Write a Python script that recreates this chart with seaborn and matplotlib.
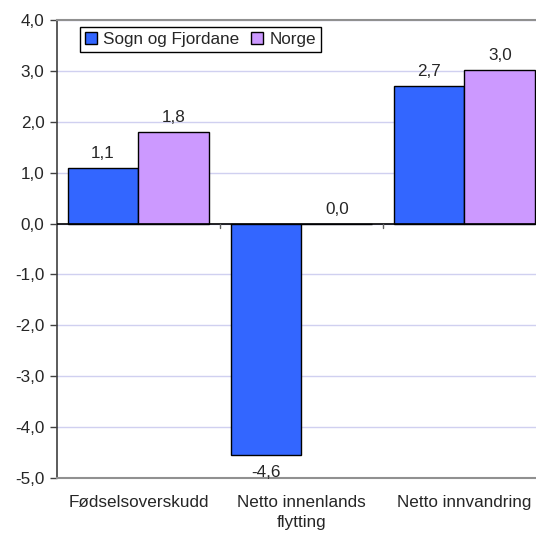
import matplotlib
matplotlib.use("Agg")
import matplotlib.pyplot as plt
import seaborn as sns
import pandas as pd

categories = ["Fødselsoverskudd", "Netto innenlands\nflytting", "Netto innvandring"]
series_names = ["Sogn og Fjordane", "Norge"]
sogn_values = [1.1, -4.55, 2.7]
norge_values = [1.8, 0.0, 3.02]
sogn_labels = ["1,1", "-4,6", "2,7"]
norge_labels = ["1,8", "0,0", "3,0"]
yticks = [4, 3, 2, 1, 0, -1, -2, -3, -4, -5]
colors = ["#3366FF", "#CC99FF"]

rows = []
for c, v in zip(categories, sogn_values):
    rows.append({"kategori": c, "serie": series_names[0], "verdi": v})
for c, v in zip(categories, norge_values):
    rows.append({"kategori": c, "serie": series_names[1], "verdi": v})
df = pd.DataFrame(rows)

sns.set_style("white")
plt.rcParams["font.family"] = ["Liberation Sans", "DejaVu Sans"]
FS = 12.3
plt.rcParams["font.size"] = FS

fig = plt.figure(figsize=(5.36, 5.35), dpi=100)
W, H = 536, 535
left, right, top, bottom = 57, 546, 20, 478
ax = fig.add_axes([left / W, 1 - bottom / H, (right - left) / W, (bottom - top) / H])

sns.barplot(data=df, x="kategori", y="verdi", hue="serie", order=categories,
            hue_order=series_names, palette=colors, width=0.87, gap=0,
            edgecolor="black", linewidth=1, saturation=1, ax=ax, zorder=3,
            legend=True)

ax.set_ylim(-5, 4)
ax.set_xlim(-0.5, 2.5)
ax.set_yticks(yticks)
ax.set_yticklabels([f"{t:.1f}".replace(".", ",") for t in yticks], fontsize=FS)
ax.set_xlabel("")
ax.set_ylabel("")
ax.grid(axis="y", color="#D0D0F0", linewidth=1, zorder=0)
ax.set_axisbelow(True)
for t in ax.get_xticklabels():
    t.set_fontsize(FS)
    t.set_linespacing(1.35)

for s in ["top", "bottom"]:
    ax.spines[s].set_color("#909090")
    ax.spines[s].set_linewidth(1.5)
ax.spines["right"].set_visible(False)
ax.spines["left"].set_color("#404040")
ax.spines["left"].set_linewidth(1.2)

ax.axhline(0, color="black", linewidth=1.2, zorder=4)
ax.tick_params(axis="y", left=True, length=5, width=1, color="#404040", pad=4)
ax.tick_params(axis="x", bottom=False, pad=9)
for xb in [0.5, 1.5]:
    ax.plot([xb, xb], [0, -0.08], color="#606060", linewidth=1, zorder=5, clip_on=False)

# value labels
bar_w = 0.87 / 2
for i, (v, lab) in enumerate(zip(sogn_values, sogn_labels)):
    x = i - bar_w / 2
    if v >= 0:
        ax.annotate(lab, (x, v), xytext=(0, 5), textcoords="offset points", ha="center", va="bottom", fontsize=FS)
    else:
        ax.annotate(lab, (x, v), xytext=(0, -7), textcoords="offset points", ha="center", va="top", fontsize=FS, zorder=6)
for i, (v, lab) in enumerate(zip(norge_values, norge_labels)):
    x = i + bar_w / 2
    ax.annotate(lab, (x, v), xytext=(0, 5), textcoords="offset points", ha="center", va="bottom", fontsize=FS)

leg = ax.legend(loc="upper left", bbox_to_anchor=((80 - left) / (right - left), 1 - 7 / (bottom - top)),
                borderaxespad=0, ncol=2, frameon=True, fancybox=False, edgecolor="black", framealpha=1,
                handlelength=0.7, handleheight=0.7, handletextpad=0.35, columnspacing=0.7,
                borderpad=0.3, fontsize=FS)
leg.get_frame().set_linewidth(1)

fig.savefig("out.png", dpi=100)
